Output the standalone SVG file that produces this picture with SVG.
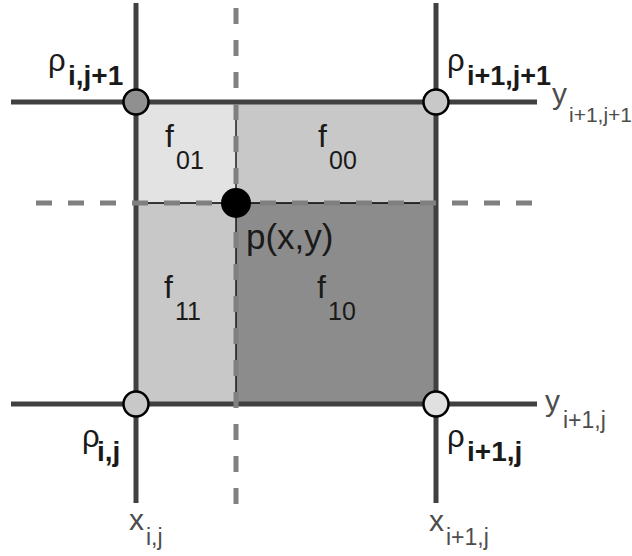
<svg xmlns="http://www.w3.org/2000/svg" width="632" height="556" viewBox="0 0 632 556">
<style>
.cell{stroke:none}
.thin{stroke:#000;stroke-width:1.3;fill:none}
.grid{stroke:#404040;stroke-width:5;fill:none}
.dash{stroke:#808080;stroke-width:5;fill:none;stroke-dasharray:16 16}
.pt{stroke:#000;stroke-width:2.5}
.lbl{font-family:"Liberation Sans",Arial,sans-serif;fill:#1a1a1a}
.f{font-size:32px}
.fs{font-size:25px}
.rho{font-size:31px}
.rs{font-size:28px;font-weight:bold}
.ax{font-family:"Liberation Sans",Arial,sans-serif;fill:#4d4d4d}
.am{font-size:30px}
.as{font-size:23px}
</style>
<rect width="632" height="556" fill="#fff"/>
<g id="cells">
<rect class="cell" x="136" y="102" width="100" height="101" fill="#e3e3e3"/>
<rect class="cell" x="236" y="102" width="200" height="101" fill="#c8c8c8"/>
<rect class="cell" x="136" y="203" width="100" height="201" fill="#c8c8c8"/>
<rect class="cell" x="236" y="203" width="200" height="201" fill="#8c8c8c"/>
<text class="lbl f" x="165" y="147">f</text><text class="lbl fs" x="176" y="169">01</text>
<text class="lbl f" x="318" y="147">f</text><text class="lbl fs" x="329" y="169">00</text>
<text class="lbl f" x="164" y="298">f</text><text class="lbl fs" x="175" y="320">11</text>
<text class="lbl f" x="317" y="298">f</text><text class="lbl fs" x="328" y="320">10</text>
</g>
<g id="connectors">
<line class="thin" x1="236" y1="102" x2="236" y2="404"/>
<line class="thin" x1="136" y1="203" x2="436" y2="203"/>
<line class="grid" x1="136" y1="3" x2="136" y2="503"/>
<line class="grid" x1="436" y1="3" x2="436" y2="503"/>
<line class="grid" x1="11" y1="102" x2="537" y2="102"/>
<line class="grid" x1="11" y1="404" x2="537" y2="404"/>
<line class="dash" x1="236" y1="8" x2="236" y2="504"/>
<line class="dash" x1="36" y1="203" x2="532" y2="203"/>
</g>
<g id="node-i-j1">
<circle class="pt" cx="136" cy="102" r="12.5" fill="#909090"/>
<text class="lbl rho" x="48" y="71">ρ</text><text class="lbl rs" x="68" y="85">i,j+1</text>
</g>
<g id="node-i1-j1">
<circle class="pt" cx="436" cy="102" r="12.5" fill="#c8c8c8"/>
<text class="lbl rho" x="447" y="71">ρ</text><text class="lbl" x="467" y="85" font-size="27" font-weight="bold">i+1,j+1</text>
</g>
<g id="node-i-j">
<circle class="pt" cx="136" cy="404" r="12.5" fill="#c8c8c8"/>
<text class="lbl rho" x="82" y="447">ρ</text><text class="lbl rs" x="97" y="461">i,j</text>
</g>
<g id="node-i1-j">
<circle class="pt" cx="436" cy="404" r="12.5" fill="#e0e0e0"/>
<text class="lbl rho" x="447" y="447">ρ</text><text class="lbl rs" x="467" y="461">i+1,j</text>
</g>
<g id="node-p">
<circle cx="236" cy="203" r="15" fill="#000"/>
<text class="lbl" x="246" y="249" font-size="35">p(x,y)</text>
</g>
<g id="axis-labels">
<text class="ax am" x="552" y="104">y</text><text class="ax" x="569" y="122" font-size="21">i+1,j+1</text>
<text class="ax am" x="545" y="411">y</text><text class="ax as" x="563" y="428">i+1,j</text>
<text class="ax am" x="129" y="530">x</text><text class="ax as" x="146" y="545">i,j</text>
<text class="ax am" x="429" y="531">x</text><text class="ax as" x="446" y="545">i+1,j</text>
</g>
</svg>
